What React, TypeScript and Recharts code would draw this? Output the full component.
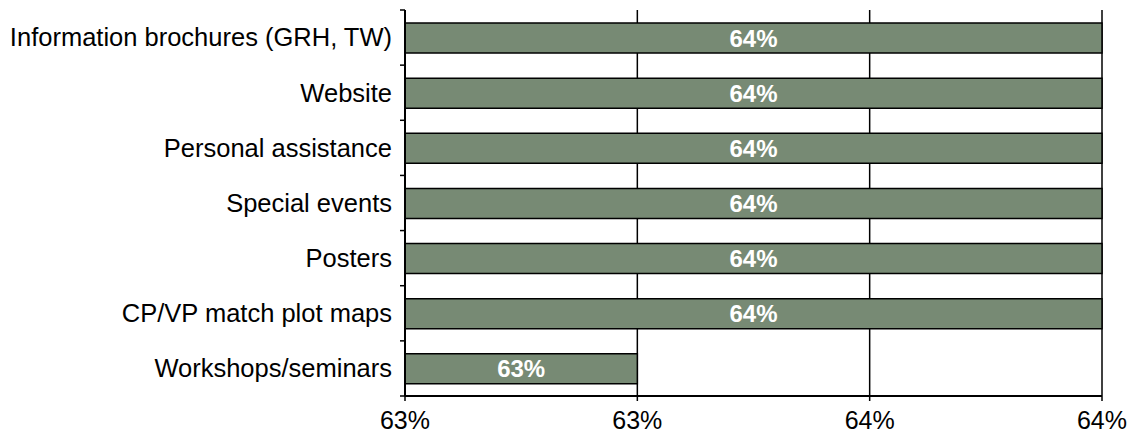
import { BarChart, Bar, XAxis, YAxis, CartesianGrid, LabelList } from 'recharts';

const categories = [
  'Information brochures (GRH, TW)',
  'Website',
  'Personal assistance',
  'Special events',
  'Posters',
  'CP/VP match plot maps',
  'Workshops/seminars',
];
const shares = [0.64, 0.64, 0.64, 0.64, 0.64, 0.64, 0.63];
const xTicks = [0.625, 0.63, 0.635, 0.64];

const data = categories.map((name, i) => ({ name, value: shares[i] }));

const WIDTH = 1133;
const HEIGHT = 436;
const MARGIN = { top: 10, right: 31, bottom: 0, left: 0 };
const X_AXIS_H = 40;
const PLOT_H = HEIGHT - MARGIN.top - MARGIN.bottom - X_AXIS_H;
const BAND = PLOT_H / categories.length;

const pct = (v: number) => `${Math.round(v * 100)}%`;

// Excel style: labels centred on the band, tick marks between categories
const CategoryTick = (props: any) => {
  const { x, y, payload, index } = props;
  const axisX = x + 13;
  const last = index === categories.length - 1;
  return (
    <g>
      <line x1={axisX - 5} x2={axisX} y1={y - BAND / 2} y2={y - BAND / 2} stroke="#000" strokeWidth={1.5} />
      {last && (
        <line x1={axisX - 5} x2={axisX} y1={y + BAND / 2} y2={y + BAND / 2} stroke="#000" strokeWidth={1.5} />
      )}
      <text x={x} y={y} dy="0.35em" textAnchor="end" fill="#000" fontSize={25.5}>
        {payload.value}
      </text>
    </g>
  );
};

const App = () => {
  return (
    <div style={{ position: 'absolute', left: 0, top: 0, background: '#fff' }}>
      <BarChart
        width={WIDTH}
        height={HEIGHT}
        data={data}
        layout="vertical"
        margin={MARGIN}
        style={{ fontFamily: 'Arial, "Liberation Sans", sans-serif' }}
      >
        <CartesianGrid horizontal={false} stroke="#000" strokeWidth={1.5} strokeOpacity={1} />
        <XAxis
          type="number"
          domain={[0.625, 0.64]}
          ticks={xTicks}
          tickFormatter={pct}
          height={X_AXIS_H}
          axisLine={{ stroke: '#000', strokeWidth: 2 }}
          tickLine={{ stroke: '#000', strokeWidth: 1.5 }}
          tickSize={5}
          tickMargin={10}
          tick={{ fill: '#000', fontSize: 25 }}
          interval={0}
        />
        <XAxis
          xAxisId="top"
          orientation="top"
          type="number"
          domain={[0.625, 0.64]}
          height={0}
          tick={false}
          tickLine={false}
          axisLine={{ stroke: '#000', strokeWidth: 1.5 }}
        />
        <YAxis
          type="category"
          dataKey="name"
          width={405}
          axisLine={{ stroke: '#000', strokeWidth: 2 }}
          tickLine={false}
          tickSize={5}
          tickMargin={8}
          tick={<CategoryTick />}
          interval={0}
        />
        <Bar dataKey="value" fill="#778a74" stroke="#000" strokeWidth={1.5} barSize={30} isAnimationActive={false}>
          <LabelList dataKey="value" position="center" formatter={(v: any) => pct(Number(v))} fill="#fff" fontSize={24} fontWeight="bold" />
        </Bar>
      </BarChart>
    </div>
  );
};

export default App;
